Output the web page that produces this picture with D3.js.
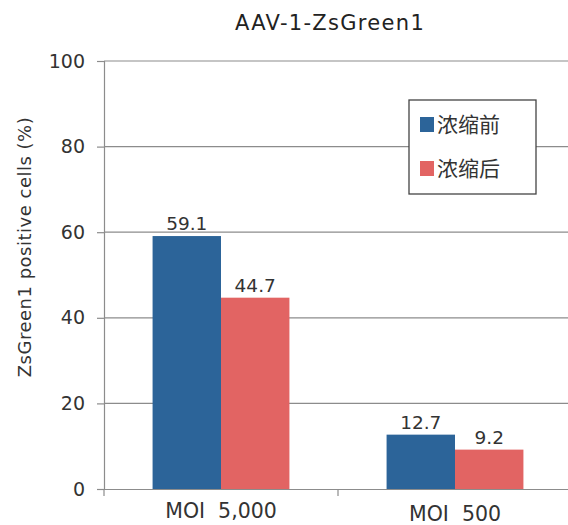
<!DOCTYPE html>
<html><head><meta charset="utf-8">
<script src="https://cdn.jsdelivr.net/npm/d3@7"></script>
<style>
html,body{margin:0;padding:0;background:#fff;}
svg{display:block;font-family:"DejaVu Sans","Noto Sans CJK SC",sans-serif;}
</style></head>
<body>
<svg id="chart" width="568" height="525"></svg>
<script>
const title = "AAV-1-ZsGreen1";
const yLabel = "ZsGreen1 positive cells (%)";
const categories = ["MOI  5,000", "MOI  500"];
const seriesNames = ["浓缩前", "浓缩后"];
const before = [59.1, 12.7];
const after = [44.7, 9.2];
const yTicks = [0, 20, 40, 60, 80, 100];
const colors = ["#2c6499", "#e26463"];

const FONT = "DejaVu Sans, sans-serif";
const svg = d3.select("#chart");
const m = {left: 104, right: -4, top: 61, bottom: 36};
const W = 568, H = 525;
const x0 = d3.scaleBand().domain(categories).range([m.left, W - m.right]).paddingInner(0).paddingOuter(0);
const x1 = d3.scaleBand().domain(seriesNames).range([0, x0.bandwidth()]).paddingInner(0).paddingOuter(0.71);
const y = d3.scaleLinear().domain([0, 100]).range([H - m.bottom, m.top]);

// gridlines
svg.append("g").selectAll("line").data(yTicks.filter(d => d > 0)).join("line")
  .attr("x1", m.left).attr("x2", W - m.right)
  .attr("y1", d => y(d)).attr("y2", d => y(d))
  .attr("stroke", "#8c8c8c").attr("stroke-width", 1.2);

// y axis
const yAxis = svg.append("g").attr("transform", `translate(${m.left},0)`)
  .call(d3.axisLeft(y).tickValues(yTicks).tickSize(7).tickPadding(12));
yAxis.select(".domain").attr("stroke", "#8c8c8c").attr("stroke-width", 1.2);
yAxis.selectAll(".tick line").attr("stroke", "#8c8c8c").attr("stroke-width", 1.2);
yAxis.selectAll(".tick text").attr("font-size", 19).attr("fill", "#333").attr("font-family", FONT);

// bars
const data = categories.map((c, i) => ({cat: c, vals: [before[i], after[i]]}));
const groups = svg.append("g").selectAll("g").data(data).join("g")
  .attr("transform", d => `translate(${x0(d.cat)},0)`);
groups.selectAll("rect").data(d => d.vals.map((v, j) => ({v, s: seriesNames[j], j}))).join("rect")
  .attr("x", d => x1(d.s)).attr("width", x1.bandwidth())
  .attr("y", d => y(d.v)).attr("height", d => y(0) - y(d.v))
  .attr("fill", d => colors[d.j]);
groups.selectAll("text").data(d => d.vals.map((v, j) => ({v, s: seriesNames[j], j}))).join("text")
  .attr("x", d => x1(d.s) + x1.bandwidth() / 2).attr("y", d => y(d.v) - 6)
  .attr("text-anchor", "middle").attr("font-size", 18.5).attr("fill", "#333").attr("font-family", FONT)
  .text(d => d.v.toFixed(1));

// x axis
const xAxis = svg.append("g").attr("transform", `translate(0,${y(0)})`)
  .call(d3.axisBottom(x0).tickSize(0).tickPadding(0));
xAxis.select(".domain").attr("stroke", "#8c8c8c").attr("stroke-width", 1.2);
xAxis.selectAll(".tick text").attr("font-size", 20.5).attr("fill", "#333").attr("font-family", FONT)
  .attr("dy", null).attr("y", (d, i) => i === 0 ? 29 : 32).style("white-space", "pre");
// category boundary ticks
const bounds = categories.map(c => x0(c)).concat([x0(categories[categories.length - 1]) + x0.bandwidth()]);
svg.append("g").selectAll("line").data(bounds).join("line")
  .attr("x1", d => d).attr("x2", d => d)
  .attr("y1", y(0)).attr("y2", y(0) + 7)
  .attr("stroke", "#8c8c8c").attr("stroke-width", 1.2);

// title
svg.append("text").attr("x", 330).attr("y", 30).attr("text-anchor", "middle")
  .attr("font-size", 21).attr("letter-spacing", 1.3).attr("fill", "#222").attr("font-family", FONT).text(title);

// y label
svg.append("text").attr("transform", `translate(31,247) rotate(-90)`)
  .attr("text-anchor", "middle").attr("font-size", 18).attr("letter-spacing", 0.5).attr("fill", "#333").attr("font-family", FONT)
  .style("white-space", "pre").text(yLabel);

// legend
const lg = svg.append("g").attr("transform", "translate(409,100)");
lg.append("rect").attr("width", 127).attr("height", 94).attr("fill", "#fff").attr("stroke", "#444").attr("stroke-width", 1.3);
const items = lg.selectAll("g").data(seriesNames).join("g")
  .attr("transform", (d, i) => `translate(11,${17 + i * 44})`);
items.append("rect").attr("width", 14).attr("height", 15).attr("fill", (d, i) => colors[i]);
items.append("text").attr("x", 17).attr("y", 7.5).attr("dy", "0.36em")
  .attr("font-size", 21).attr("fill", "#333").attr("font-family", "Noto Sans CJK SC, sans-serif").text(d => d);
</script>
</body></html>
